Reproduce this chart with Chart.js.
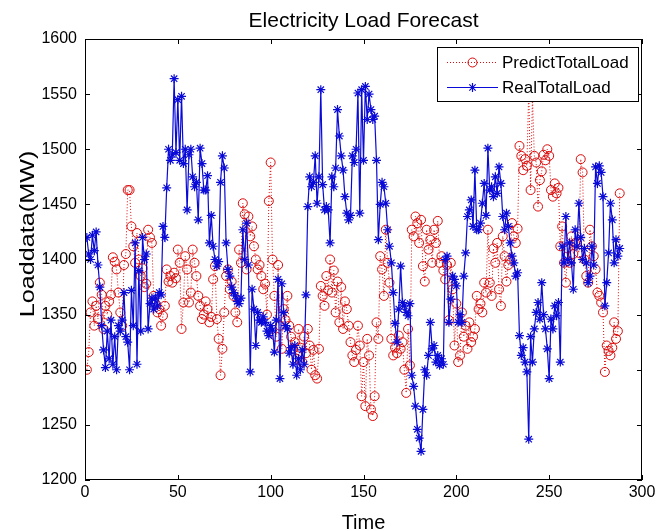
<!DOCTYPE html>
<html>
<head>
<meta charset="utf-8">
<script src="https://cdn.jsdelivr.net/npm/chart.js@4.4.1/dist/chart.umd.min.js"></script>
<style>
  html, body { margin: 0; padding: 0; background: #fff; }
  canvas { display: block; }
</style>
</head>
<body>
<canvas id="chart1" width="659" height="531"></canvas>
<script>
// values, one per time step (1..288)
let predictLoad = [
  1300, 1316, 1352, 1362, 1340, 1358, 1346, 1379, 1368, 1337, 1358, 1350,
  1362, 1368, 1402, 1398, 1391, 1370, 1352, 1340, 1395, 1405, 1463, 1463,
  1430, 1412, 1397, 1424, 1400, 1385, 1392, 1375, 1378, 1427, 1420, 1415,
  1367, 1360, 1352, 1355, 1340, 1349, 1358, 1391, 1380, 1385, 1379, 1388,
  1383, 1409, 1397, 1337, 1361, 1403, 1391, 1361, 1370, 1409, 1397, 1385,
  1367, 1358, 1346, 1350, 1362, 1355, 1343, 1348, 1382, 1394, 1346, 1328,
  1295, 1319, 1352, 1385, 1391, 1373, 1380, 1367, 1352, 1343, 1409, 1397,
  1451, 1441, 1391, 1439, 1421, 1430, 1412, 1400, 1391, 1395, 1385, 1373,
  1378, 1350, 1453, 1488, 1400, 1367, 1330, 1395, 1340, 1319, 1355, 1345,
  1367, 1340, 1330, 1319, 1325, 1310, 1337, 1320, 1307, 1330, 1315, 1337,
  1322, 1300, 1318, 1295, 1292, 1319, 1376, 1367, 1358, 1385, 1372, 1400,
  1370, 1390, 1352, 1380, 1343, 1375, 1337, 1362, 1355, 1340, 1325, 1313,
  1307, 1318, 1340, 1322, 1276, 1307, 1267, 1328, 1313, 1264, 1258, 1276,
  1343, 1328, 1403, 1391, 1367, 1427, 1397, 1379, 1328, 1313, 1320, 1315,
  1331, 1319, 1325, 1300, 1279, 1337, 1304, 1427, 1421, 1439, 1433, 1415,
  1436, 1394, 1380, 1427, 1409, 1418, 1397, 1427, 1415, 1435, 1397, 1403,
  1390, 1382, 1395, 1345, 1397, 1373, 1322, 1360, 1307, 1313, 1352, 1330,
  1340, 1319, 1343, 1325, 1330, 1337, 1367, 1355, 1360, 1352, 1379, 1370,
  1427, 1379, 1367, 1410, 1397, 1415, 1373, 1358, 1421, 1403, 1380, 1395,
  1400, 1433, 1421, 1415, 1428, 1503, 1494, 1481, 1491, 1485, 1555, 1463,
  1548, 1494, 1488, 1448, 1472, 1480, 1495, 1490, 1500, 1494, 1463, 1457,
  1469, 1460, 1465, 1412, 1430, 1397, 1379, 1410, 1397, 1421, 1405, 1415,
  1415, 1406, 1491, 1479, 1400, 1385, 1379, 1427, 1412, 1403, 1391, 1370,
  1367, 1361, 1352, 1298, 1322, 1317, 1313, 1320, 1343, 1328, 1335, 1460
];

let realLoad = [
  1420, 1405, 1400, 1422, 1408, 1425, 1395, 1375, 1340, 1318, 1302, 1335,
  1310, 1345, 1305, 1330, 1300, 1340, 1335, 1345, 1370, 1330, 1325, 1300,
  1372, 1340, 1415, 1305, 1390, 1335, 1420, 1400, 1405, 1337, 1360, 1365,
  1355, 1365, 1358, 1370, 1368, 1430, 1420, 1465, 1500, 1490, 1495, 1564,
  1497, 1545, 1490, 1548, 1487, 1500, 1445, 1495, 1500, 1475, 1466, 1470,
  1436, 1501, 1487, 1463, 1463, 1476, 1415, 1440, 1412, 1400, 1394, 1398,
  1470, 1494, 1483, 1415, 1391, 1385, 1375, 1370, 1367, 1362, 1360, 1365,
  1427, 1400, 1433, 1395, 1298, 1373, 1355, 1322, 1352, 1345, 1343, 1348,
  1343, 1335, 1331, 1340, 1336, 1316, 1345, 1382, 1292, 1378, 1352, 1340,
  1337, 1315, 1320, 1305, 1322, 1295, 1310, 1300, 1318, 1305, 1368, 1448,
  1475, 1466, 1470, 1494, 1451, 1475, 1554, 1468, 1445, 1448, 1445, 1415,
  1475, 1466, 1483, 1536, 1512, 1494, 1481, 1457, 1442, 1436, 1440, 1494,
  1488, 1500, 1551, 1442, 1554, 1490, 1557, 1527, 1550, 1536, 1527, 1530,
  1490, 1418, 1450, 1470, 1466, 1451, 1427, 1412, 1397, 1370, 1342, 1325,
  1355, 1394, 1361, 1358, 1352, 1349, 1360, 1295, 1285, 1267, 1246, 1238,
  1226, 1264, 1300, 1295, 1313, 1343, 1319, 1322, 1307, 1313, 1304, 1310,
  1305, 1400, 1403, 1343, 1364, 1385, 1382, 1376, 1343, 1350, 1343, 1385,
  1406, 1439, 1445, 1454, 1430, 1481, 1427, 1427, 1433, 1451, 1469, 1440,
  1501, 1463, 1466, 1457, 1475, 1460, 1484, 1469, 1439, 1427, 1442, 1430,
  1415, 1403, 1397, 1385, 1388, 1331, 1313, 1320, 1307, 1298, 1237, 1330,
  1307, 1337, 1352, 1361, 1346, 1379, 1350, 1337, 1319, 1292, 1346, 1337,
  1358, 1349, 1361, 1307, 1412, 1397, 1439, 1400, 1415, 1397, 1373, 1427,
  1412, 1451, 1420, 1400, 1410, 1397, 1379, 1385, 1412, 1395, 1484, 1469,
  1485, 1479, 1457, 1358, 1379, 1406, 1451, 1436, 1397, 1418, 1403, 1410
];

let xTicks = [0, 50, 100, 150, 200, 250, 300];
let yTicks = [1200, 1250, 1300, 1350, 1400, 1450, 1500, 1550, 1600];
let seriesNames = ["PredictTotalLoad", "RealTotalLoad"];

const RED = "rgb(220,10,10)";
const BLUE = "rgb(10,10,215)";
const FONT = "'Liberation Sans', Arial, sans-serif";

let predictPts = predictLoad.map((v, i) => ({ x: i + 1, y: v }));
let realPts = realLoad.map((v, i) => ({ x: i + 1, y: v }));

function drawStar(ctx, x, y, r) {
  ctx.beginPath();
  ctx.moveTo(x - r, y); ctx.lineTo(x + r, y);
  ctx.moveTo(x, y - r); ctx.lineTo(x, y + r);
  let d = r * 0.7071;
  ctx.moveTo(x - d, y - d); ctx.lineTo(x + d, y + d);
  ctx.moveTo(x - d, y + d); ctx.lineTo(x + d, y - d);
  ctx.stroke();
}

// matlab look: box, inward ticks, title, axis labels, legend
const matlabFrame = {
  id: "matlabFrame",
  beforeDraw(chart) {
    const ctx = chart.ctx;
    ctx.save();
    ctx.fillStyle = "#fff";
    ctx.fillRect(0, 0, chart.width, chart.height);
    ctx.restore();
  },
  afterDatasetsDraw(chart) {
    const ctx = chart.ctx;
    const a = chart.chartArea;
    const xs = chart.scales.x, ys = chart.scales.y;
    ctx.save();
    ctx.strokeStyle = "#000";
    ctx.lineWidth = 1;
    ctx.strokeRect(Math.round(a.left) + 0.5, Math.round(a.top) + 0.5,
                   Math.round(a.right - a.left) - 1, Math.round(a.bottom - a.top) - 1);

    const tl = 5;
    ctx.beginPath();
    xTicks.forEach(t => {
      let px = Math.round(xs.getPixelForValue(t)) + 0.5;
      ctx.moveTo(px, a.bottom); ctx.lineTo(px, a.bottom - tl);
      ctx.moveTo(px, a.top); ctx.lineTo(px, a.top + tl);
    });
    yTicks.forEach(t => {
      let py = Math.round(ys.getPixelForValue(t)) + 0.5;
      ctx.moveTo(a.left, py); ctx.lineTo(a.left + tl, py);
      ctx.moveTo(a.right, py); ctx.lineTo(a.right - tl, py);
    });
    ctx.stroke();

    // legend
    let lx = 437.5, ly = 47.5, lw = 201, lh = 54;
    ctx.fillStyle = "#fff";
    ctx.fillRect(lx, ly, lw, lh);
    ctx.strokeRect(lx, ly, lw, lh);

    let r1 = 62, r2 = 87;
    ctx.strokeStyle = RED;
    ctx.setLineDash([1, 2]);
    ctx.beginPath(); ctx.moveTo(447, r1 + 0.5); ctx.lineTo(498, r1 + 0.5); ctx.stroke();
    ctx.setLineDash([]);
    ctx.beginPath(); ctx.arc(472.5, r1 + 0.5, 4.5, 0, Math.PI * 2); ctx.stroke();

    ctx.strokeStyle = BLUE;
    ctx.lineWidth = 1.2;
    ctx.beginPath(); ctx.moveTo(447, r2 + 0.5); ctx.lineTo(498, r2 + 0.5); ctx.stroke();
    drawStar(ctx, 472.5, r2 + 0.5, 4.5);

    ctx.fillStyle = "#000";
    ctx.font = "17px " + FONT;
    ctx.textAlign = "left";
    ctx.textBaseline = "middle";
    ctx.fillText(seriesNames[0], 502, r1 + 1);
    ctx.fillText(seriesNames[1], 502, r2 + 1);

    // title and axis labels
    let cx = (a.left + a.right) / 2;
    ctx.textAlign = "center";
    ctx.textBaseline = "alphabetic";
    ctx.font = "21px " + FONT;
    ctx.fillText("Electricity Load Forecast", cx, 27);
    ctx.font = "20px " + FONT;
    ctx.fillText("Time", cx, 529);

    ctx.translate(34, 234);
    ctx.rotate(-Math.PI / 2);
    ctx.scale(1.2, 1);
    ctx.font = "21px " + FONT;
    ctx.fillText("Loaddata(MW)", 0, 0);
    ctx.restore();
  }
};

new Chart(document.getElementById("chart1"), {
  type: "line",
  data: {
    datasets: [{
      label: seriesNames[0],
      data: predictPts,
      order: 1,
      borderColor: RED,
      borderWidth: 1,
      borderDash: [1, 2],
      pointStyle: "circle",
      pointRadius: 4.5,
      pointBorderWidth: 1,
      pointBorderColor: RED,
      pointBackgroundColor: "rgba(0,0,0,0)",
      tension: 0
    }, {
      label: seriesNames[1],
      data: realPts,
      order: 0,
      borderColor: BLUE,
      borderWidth: 1.2,
      pointStyle: "star",
      pointRadius: 4.5,
      pointBorderWidth: 1.2,
      pointBorderColor: BLUE,
      pointBackgroundColor: BLUE,
      tension: 0
    }]
  },
  options: {
    responsive: false,
    animation: false,
    devicePixelRatio: 1,
    layout: { padding: { left: 0, right: 17, top: 39, bottom: 0 } },
    plugins: {
      legend: { display: false },
      title: { display: false },
      tooltip: { enabled: false }
    },
    scales: {
      x: {
        type: "linear",
        min: 0, max: 300,
        afterBuildTicks: s => { s.ticks = xTicks.map(v => ({ value: v })); },
        afterFit: s => { s.height = 51; },
        ticks: { color: "#000", padding: 3, maxRotation: 0, font: { family: FONT, size: 16 },
                 callback: v => String(v) },
        grid: { display: false, drawTicks: false },
        border: { display: false }
      },
      y: {
        min: 1200, max: 1600,
        afterBuildTicks: s => { s.ticks = yTicks.map(v => ({ value: v })); },
        afterFit: s => { s.width = 85; },
        ticks: { color: "#000", padding: 8, font: { family: FONT, size: 16 },
                 callback: v => String(v) },
        grid: { display: false, drawTicks: false },
        border: { display: false }
      }
    }
  },
  plugins: [matlabFrame]
});
</script>
</body>
</html>
